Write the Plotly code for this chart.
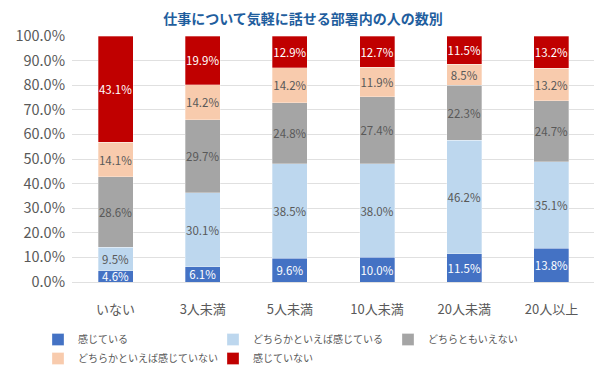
import plotly.graph_objects as go

categories = ["いない", "3人未満", "5人未満", "10人未満", "20人未満", "20人以上"]
series_names = ["感じている", "どちらかといえば感じている", "どちらともいえない",
                "どちらかといえば感じていない", "感じていない"]
kanjiteiru = [4.6, 6.1, 9.6, 10.0, 11.5, 13.8]
dochira_kanjiteiru = [9.5, 30.1, 38.5, 38.0, 46.2, 35.1]
dochiramo = [28.6, 29.7, 24.8, 27.4, 22.3, 24.7]
dochira_kanjiteinai = [14.1, 14.2, 14.2, 11.9, 8.5, 13.2]
kanjiteinai = [43.1, 19.9, 12.9, 12.7, 11.5, 13.2]
tick_vals = [0, 10, 20, 30, 40, 50, 60, 70, 80, 90, 100]
tick_text = ["0.0%", "10.0%", "20.0%", "30.0%", "40.0%", "50.0%", "60.0%", "70.0%", "80.0%", "90.0%", "100.0%"]

values = [kanjiteiru, dochira_kanjiteiru, dochiramo, dochira_kanjiteinai, kanjiteinai]
colors = ["#4472C4", "#BDD7EE", "#A5A5A5", "#F8CBAD", "#C00000"]
text_colors = ["#FFFFFF", "#595959", "#595959", "#595959", "#FFFFFF"]

FONT = "Noto Sans CJK JP"
W, H = 594, 372  # page body has an 8px margin
fig = go.Figure()
for name, vals, c, tc in zip(series_names, values, colors, text_colors):
    fig.add_trace(go.Bar(
        x=categories, y=vals, name=name,
        marker=dict(color=c, line=dict(color="rgba(255,255,255,0.6)", width=0.5)),
        text=[f"{v:.1f}%" for v in vals],
        textposition="inside", insidetextanchor="middle", textangle=0,
        textfont=dict(color=tc, size=11.5, family=FONT),
        width=0.4,
    ))

fig.update_layout(
    barmode="stack",
    width=W, height=H,
    margin=dict(l=64, r=7, t=28, b=98, autoexpand=False),
    paper_bgcolor="white", plot_bgcolor="white",
    font=dict(family=FONT, color="#595959"),
    title=dict(text="<b>仕事について気軽に話せる部署内の人の数別</b>",
               font=dict(size=14, color="#1F5E9E", family=FONT),
               x=295 / W, xanchor="center", xref="container",
               y=1 - 6 / H, yref="container", yanchor="top", pad=dict(t=0, b=0)),
    uniformtext=dict(mode="show", minsize=11.5),
    legend=dict(orientation="h", x=30 / W, xref="container", xanchor="left",
                y=(H - 317) / H, yref="container", yanchor="top",
                font=dict(size=10, color="#595959", family=FONT),
                entrywidth=130, entrywidthmode="pixels",
                traceorder="normal", tracegroupgap=0),
    showlegend=True,
)
fig.update_yaxes(range=[0, 100], tickvals=tick_vals, ticktext=tick_text,
                 showgrid=True, gridcolor="#E0E0E0", gridwidth=1,
                 zeroline=False, showline=False, ticklabelstandoff=6,
                 tickfont=dict(size=14.5, color="#595959", family=FONT), ticks="")
fig.update_xaxes(showline=True, linecolor="#E0E0E0", showgrid=False, ticklabelstandoff=15,
                 tickfont=dict(size=13, color="#595959", family=FONT), ticks="")

fig.write_html("out.html")
